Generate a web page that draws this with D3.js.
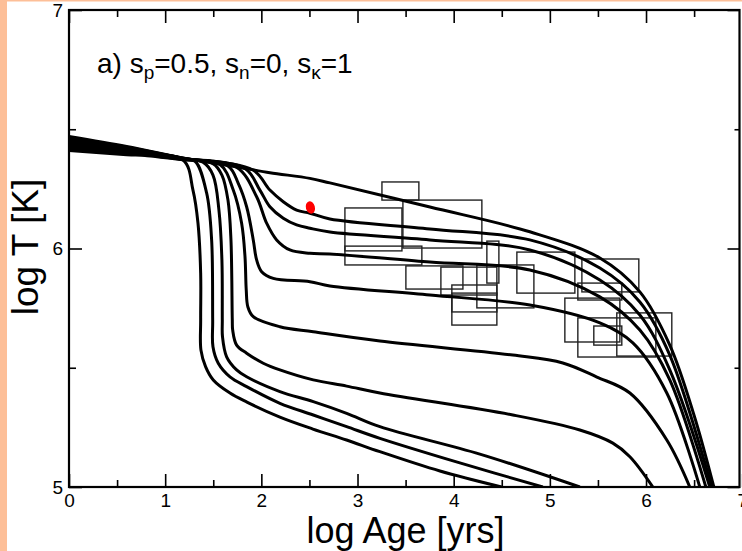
<!DOCTYPE html>
<html><head><meta charset="utf-8">
<script src="https://cdn.jsdelivr.net/npm/d3@7"></script>
<style>body{margin:0;background:#fff}svg{display:block}text{font-family:"Liberation Sans",Arial,Helvetica,sans-serif;fill:#000}</style>
</head><body><svg id="c" width="742" height="551"></svg>
<script>
// ---- data (log Age [yrs], log T [K]) ----
const xTicks=[0,1,2,3,4,5,6,7];
const xMinor=[0.5,1.5,2.5,3.5,4.5,5.5,6.5];
const yTicks=[5,6,7];
const yMinor=[5.5,6.5];

const curveA=[[0,6.411],[0.6,6.393],[1.185,6.371],[1.289,6.245],[1.341,6.107],[1.369,5.897],[1.369,5.700],[1.372,5.574],[1.42,5.505],[1.5,5.449],[1.674,5.394],[1.850,5.356],[2.193,5.293],[2.536,5.243],[2.886,5.197],[3.233,5.148],[3.857,5.067],[4.498,5.0]];
const curveB=[[0,6.418],[0.6,6.398],[1.185,6.372],[1.31,6.366],[1.431,6.233],[1.483,6.036],[1.494,5.700],[1.497,5.588],[1.552,5.519],[1.674,5.462],[1.847,5.421],[2.193,5.351],[2.540,5.302],[2.887,5.253],[3.233,5.204],[4.064,5.101],[4.927,5.0]];
const curveC=[[0,6.424],[0.6,6.403],[1.185,6.373],[1.393,6.362],[1.497,6.308],[1.559,6.161],[1.590,5.952],[1.594,5.700],[1.596,5.630],[1.639,5.546],[1.743,5.491],[1.847,5.462],[2.193,5.400],[2.540,5.358],[2.887,5.309],[3.233,5.253],[4.272,5.138],[5.312,5.0]];
const curveD=[[0,6.431],[0.6,6.408],[1.185,6.374],[1.497,6.356],[1.590,6.308],[1.653,6.203],[1.684,6.036],[1.698,5.700],[1.702,5.658],[1.743,5.595],[1.847,5.561],[2.020,5.519],[2.193,5.491],[2.540,5.449],[2.887,5.423],[3.233,5.394],[4.615,5.302],[5.312,5.239],[5.655,5.184],[5.832,5.127],[6.071,5.0]];
const curveE=[[0,6.437],[0.6,6.412],[1.185,6.375],[1.570,6.352],[1.708,6.245],[1.795,6.106],[1.830,5.966],[1.843,5.826],[1.860,5.755],[1.916,5.714],[2.193,5.672],[2.540,5.651],[3.233,5.612],[4.615,5.553],[5.135,5.520],[5.489,5.461],[5.832,5.394],[6.216,5.197],[6.455,5.0]];
const curveF=[[0,6.444],[0.6,6.415],[1.185,6.376],[1.653,6.346],[1.760,6.273],[1.847,6.175],[1.916,6.036],[1.951,5.952],[2.003,5.903],[2.124,5.875],[2.505,5.861],[2.713,5.843],[3.753,5.805],[4.792,5.763],[5.520,5.688],[5.863,5.604],[6.216,5.394],[6.559,5.0]];
const curveG=[[0,6.450],[0.6,6.418],[1.185,6.377],[1.746,6.340],[1.951,6.217],[2.055,6.106],[2.159,6.036],[2.297,5.994],[2.505,5.980],[2.713,5.977],[3.753,5.943],[4.792,5.910],[5.520,5.797],[5.936,5.658],[6.247,5.449],[6.622,5.0]];
const curveH=[[0,6.457],[0.6,6.422],[1.185,6.378],[1.830,6.335],[1.985,6.245],[2.089,6.175],[2.228,6.127],[2.367,6.099],[2.505,6.085],[2.713,6.069],[3.753,6.036],[4.792,5.994],[5.520,5.868],[5.936,5.721],[6.247,5.491],[6.663,5.0]];
const curveI=[[0,6.464],[0.6,6.425],[1.185,6.379],[1.913,6.329],[2.089,6.245],[2.228,6.196],[2.367,6.161],[2.505,6.148],[2.713,6.124],[3.753,6.082],[4.792,6.036],[5.520,5.918],[5.936,5.776],[6.247,5.553],[6.684,5.0]];
const curveJ=[[0,6.470],[0.6,6.428],[1.185,6.380],[1.5,6.358],[1.778,6.340],[2.089,6.318],[2.505,6.294],[2.713,6.275],[3.753,6.174],[4.792,6.070],[5.520,5.960],[5.936,5.818],[6.247,5.595],[6.5,5.30],[6.705,5.0]];

// observational error boxes: [ageMin, ageMax, logTmin, logTmax]
const boxes=[
 [3.254,3.638,6.203,6.279],
 [3.472,4.293,6.002,6.203],
 [2.869,3.462,5.990,6.170],
 [2.869,3.669,5.931,6.010],
 [3.503,4.096,5.830,5.927],
 [3.867,4.449,5.805,5.922],
 [4.345,4.470,5.855,6.031],
 [3.981,4.449,5.679,5.847],
 [3.981,4.449,5.734,5.813],
 [4.241,4.834,5.751,5.931],
 [4.657,5.260,5.813,5.985],
 [5.333,5.925,5.818,5.956],
 [5.291,5.748,5.784,5.855],
 [5.156,5.728,5.608,5.792],
 [5.291,6.102,5.545,5.709],
 [5.696,6.268,5.549,5.730],
 [5.457,5.748,5.595,5.675]
];
const redPoint=[2.51,6.172];

// ---- drawing ----
const svg=d3.select("#c");
svg.append("rect").attr("width",742).attr("height",551).attr("fill","#fff");
svg.append("rect").attr("x",0).attr("y",0).attr("width",7).attr("height",551).attr("fill","#fdbf98");
svg.append("rect").attr("x",0).attr("y",0).attr("width",742).attr("height",1.5).attr("fill","#fdbf98");

const L=69,R=742.2,T=10,B=487;
const x=d3.scaleLinear().domain([0,7]).range([L,R]);
const y=d3.scaleLinear().domain([5,7]).range([B,T]);

svg.append("clipPath").attr("id","clip").append("rect").attr("x",L).attr("y",T).attr("width",739.5-L).attr("height",B-T);
const g=svg.append("g").attr("clip-path","url(#clip)");

// boxes
g.selectAll("rect.box").data(boxes).join("rect").attr("class","box")
 .attr("x",d=>x(d[0])).attr("y",d=>y(d[3]))
 .attr("width",d=>x(d[1])-x(d[0])).attr("height",d=>y(d[2])-y(d[3]))
 .attr("fill","none").attr("stroke","#222").attr("stroke-width",1.4);

const curves=[curveA,curveB,curveC,curveD,curveE,curveF,curveG,curveH,curveI,curveJ];
const line=d3.line().x(d=>x(d[0])).y(d=>y(d[1])).curve(d3.curveCatmullRom.alpha(0.5));
g.selectAll("path.cv").data(curves).join("path").attr("class","cv")
 .attr("d",line).attr("fill","none").attr("stroke","#000").attr("stroke-width",3).attr("stroke-linejoin","round");

g.append("ellipse").attr("cx",x(redPoint[0])).attr("cy",y(redPoint[1])).attr("rx",4.5).attr("ry",6.3)
 .attr("transform",`rotate(-15 ${x(redPoint[0])} ${y(redPoint[1])})`).attr("fill","#f00");

// axes (inward ticks on all sides)
function styleAxis(sel){sel.select(".domain").remove();sel.selectAll(".tick line").attr("stroke","#000").attr("stroke-width",1.6);}
const fs=19;
svg.append("g").attr("transform",`translate(0,${B})`).call(d3.axisBottom(x).tickValues(xTicks).tickFormat(d3.format("d")).tickSizeInner(-13).tickSizeOuter(0).tickPadding(7))
 .call(styleAxis).call(s=>s.selectAll("text").attr("font-size",fs).attr("font-family","Liberation Sans, Arial, sans-serif").attr("fill","#000").attr("dy","0.71em"));
svg.append("g").attr("transform",`translate(0,${B})`).call(d3.axisBottom(x).tickValues(xMinor).tickFormat("").tickSizeInner(-7).tickSizeOuter(0)).call(styleAxis);
svg.append("g").attr("transform",`translate(0,${T})`).call(d3.axisTop(x).tickValues(xTicks.filter(v=>v<7)).tickFormat("").tickSizeInner(-13).tickSizeOuter(0)).call(styleAxis);
svg.append("g").attr("transform",`translate(0,${T})`).call(d3.axisTop(x).tickValues(xMinor).tickFormat("").tickSizeInner(-7).tickSizeOuter(0)).call(styleAxis);
svg.append("g").attr("transform",`translate(${L},0)`).call(d3.axisLeft(y).tickValues(yTicks).tickFormat(d3.format("d")).tickSizeInner(-13).tickSizeOuter(0).tickPadding(6))
 .call(styleAxis).call(s=>s.selectAll("text").attr("font-size",fs).attr("font-family","Liberation Sans, Arial, sans-serif").attr("fill","#000"));
svg.append("g").attr("transform",`translate(${L},0)`).call(d3.axisLeft(y).tickValues(yMinor).tickFormat("").tickSizeInner(-7).tickSizeOuter(0)).call(styleAxis);
svg.append("g").attr("transform",`translate(739.5,0)`).call(d3.axisRight(y).tickValues(yTicks).tickFormat("").tickSizeInner(-12).tickSizeOuter(0)).call(styleAxis);
svg.append("g").attr("transform",`translate(739.5,0)`).call(d3.axisRight(y).tickValues(yMinor).tickFormat("").tickSizeInner(-5).tickSizeOuter(0)).call(styleAxis);

// frame
svg.append("rect").attr("x",L).attr("y",T).attr("width",739.5-L).attr("height",B-T).attr("fill","none").attr("stroke","#000").attr("stroke-width",2.2);

// titles
svg.append("text").attr("x",405.5).attr("y",543).attr("text-anchor","middle").attr("font-size",36).text("log Age [yrs]");
svg.append("text").attr("transform","translate(38,247) rotate(-90)").attr("text-anchor","middle").attr("font-size",37).text("log T [K]");

// annotation
const ann=svg.append("text").attr("x",97).attr("y",73).attr("font-size",28);
ann.append("tspan").text("a) s");
ann.append("tspan").attr("font-size",19).attr("dy",6).text("p");
ann.append("tspan").attr("dy",-6).text("=0.5, s");
ann.append("tspan").attr("font-size",19).attr("dy",6).text("n");
ann.append("tspan").attr("dy",-6).text("=0, s");
ann.append("tspan").attr("font-size",19).attr("dy",6).text("κ");
ann.append("tspan").attr("dy",-6).text("=1");
</script></body></html>
